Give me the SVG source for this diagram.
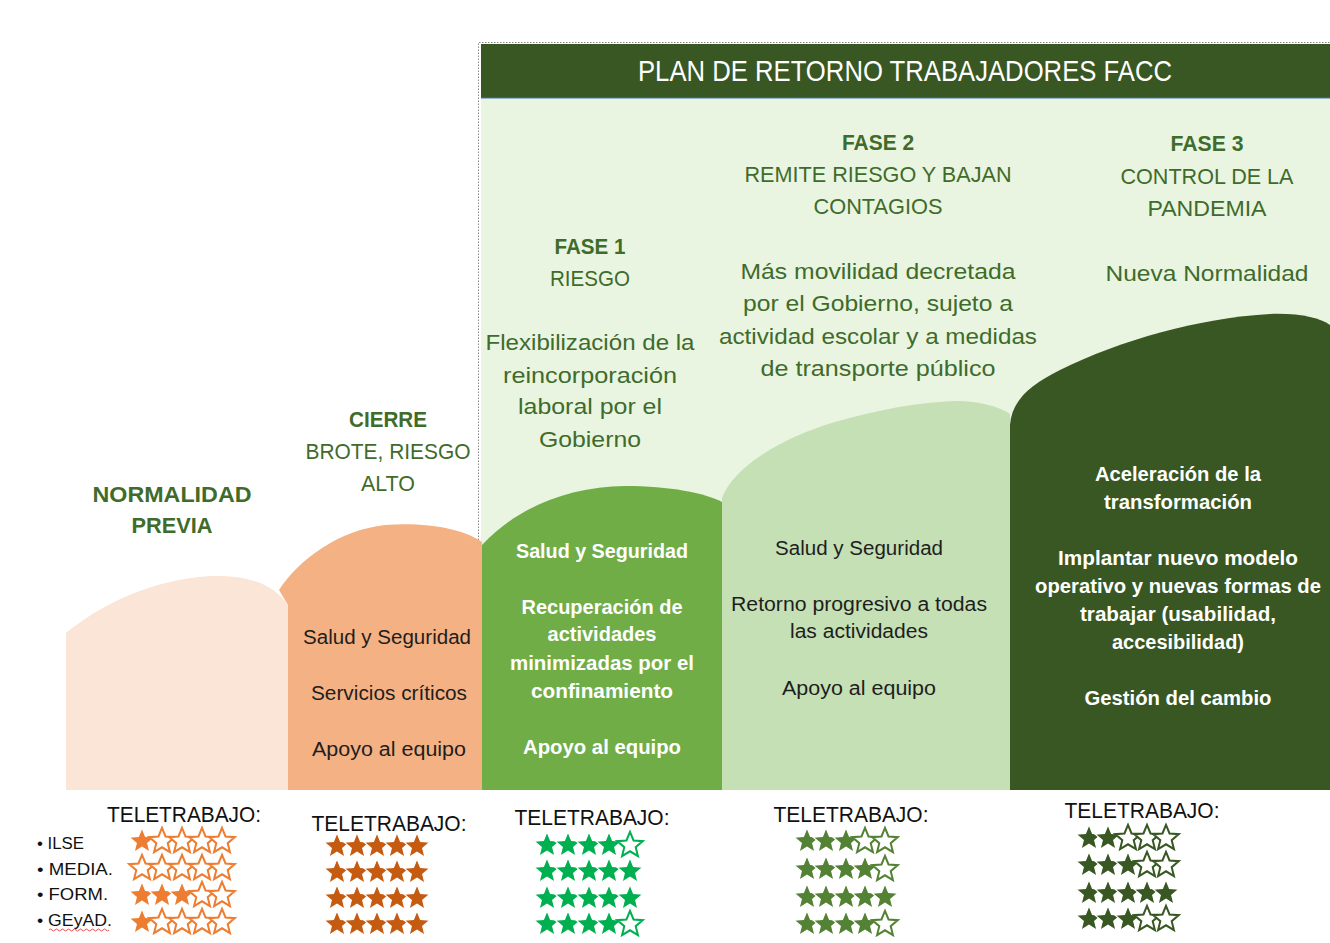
<svg xmlns="http://www.w3.org/2000/svg" width="1330" height="943" viewBox="0 0 1330 943">
<style>
text{font-family:"Liberation Sans",Arial,sans-serif;text-anchor:middle}
.hd{fill:#3f6b2b;font-size:22px}
.b{font-weight:bold}
.dk{fill:#1e1e1e;font-size:20px}
.wh{fill:#ffffff;font-size:20px;font-weight:bold}
.tt{fill:#111;font-size:22px}
.bl{fill:#111;font-size:16px;text-anchor:start}
.o1{fill:#ed7d31;stroke:#fff;stroke-width:1.2}
.o1e{fill:#fff;stroke:#ed7d31;stroke-width:2}
.o2{fill:#c55a11;stroke:#fff;stroke-width:1.2}
.g3{fill:#00b050;stroke:#fff;stroke-width:1.2}
.g3e{fill:#fff;stroke:#00b050;stroke-width:2}
.g4{fill:#548235;stroke:#fff;stroke-width:1.2}
.g4e{fill:#fff;stroke:#548235;stroke-width:2}
.g5{fill:#385723;stroke:#fff;stroke-width:1.2}
.g5e{fill:#fff;stroke:#385723;stroke-width:2}
</style>
<defs>
<path id="st" d="M0,-12.2 L3.53,-3.55 L12.84,-2.87 L5.71,3.15 L7.94,12.22 L0,7.3 L-7.94,12.22 L-5.71,3.15 L-12.84,-2.87 L-3.53,-3.55 Z"/>
</defs>
<rect width="1330" height="943" fill="#fff"/>

<g id="plan-area">
<rect x="481" y="98" width="849" height="692" fill="#e9f5e1"/>
<path d="M478.5,540 V42.5 H1330" fill="none" stroke="#8a8a8a" stroke-width="1" stroke-dasharray="1.5,1.5"/>
<rect x="481" y="44" width="849" height="54" fill="#385723"/>
<line x1="481" y1="98" x2="1330" y2="98" stroke="#4472c4" stroke-width="1.2"/>
<text x="905" y="81" fill="#fff" font-size="29" textLength="534" lengthAdjust="spacingAndGlyphs">PLAN DE RETORNO TRABAJADORES FACC</text>
</g>

<g id="normalidad">
<path d="M66,790 L66,633 C100,605 150,580 210,576 C245,575 272,582 288,605 L288,790 Z" fill="#fbe5d6"/>
<text class="hd b" x="172" y="502" textLength="159" lengthAdjust="spacingAndGlyphs">NORMALIDAD</text>
<text class="hd b" x="172" y="533" textLength="81" lengthAdjust="spacingAndGlyphs">PREVIA</text>
</g>

<g id="cierre">
<path d="M288,790 L288,605 L279,590 C300,558 340,530 385,525 C430,522 465,530 482,542 L482,790 Z" fill="#f4b183"/>
<text class="hd b" x="388" y="427" textLength="78" lengthAdjust="spacingAndGlyphs">CIERRE</text>
<text class="hd" x="388" y="459" textLength="165" lengthAdjust="spacingAndGlyphs">BROTE, RIESGO</text>
<text class="hd" x="388" y="491" textLength="54" lengthAdjust="spacingAndGlyphs">ALTO</text>
<text class="dk" x="387" y="644" textLength="168" lengthAdjust="spacingAndGlyphs">Salud y Seguridad</text>
<text class="dk" x="389" y="700" textLength="156" lengthAdjust="spacingAndGlyphs">Servicios críticos</text>
<text class="dk" x="389" y="756" textLength="154" lengthAdjust="spacingAndGlyphs">Apoyo al equipo</text>
</g>

<g id="fase1">
<path d="M482,790 L482,545 C520,505 570,487 625,486 C670,486 705,493 722,502 L722,790 Z" fill="#70ad47"/>
<text class="hd b" x="590" y="254" textLength="71" lengthAdjust="spacingAndGlyphs">FASE 1</text>
<text class="hd" x="590" y="286" textLength="80" lengthAdjust="spacingAndGlyphs">RIESGO</text>
<text class="hd" x="590" y="350" textLength="209" lengthAdjust="spacingAndGlyphs">Flexibilización de la</text>
<text class="hd" x="590" y="383" textLength="174" lengthAdjust="spacingAndGlyphs">reincorporación</text>
<text class="hd" x="590" y="414" textLength="144" lengthAdjust="spacingAndGlyphs">laboral por el</text>
<text class="hd" x="590" y="447" textLength="102" lengthAdjust="spacingAndGlyphs">Gobierno</text>
<text class="wh" x="602" y="558" textLength="172" lengthAdjust="spacingAndGlyphs">Salud y Seguridad</text>
<text class="wh" x="602" y="614" textLength="161" lengthAdjust="spacingAndGlyphs">Recuperación de</text>
<text class="wh" x="602" y="641" textLength="109" lengthAdjust="spacingAndGlyphs">actividades</text>
<text class="wh" x="602" y="670" textLength="184" lengthAdjust="spacingAndGlyphs">minimizadas por el</text>
<text class="wh" x="602" y="698" textLength="142" lengthAdjust="spacingAndGlyphs">confinamiento</text>
<text class="wh" x="602" y="754" textLength="158" lengthAdjust="spacingAndGlyphs">Apoyo al equipo</text>
</g>

<g id="fase2">
<path d="M722,790 L722,498 C732,470 775,440 835,422 C880,409 920,402 955,401 C980,401 1000,407 1010,414 L1010,790 Z" fill="#c5e0b4"/>
<text class="hd b" x="878" y="150" textLength="72" lengthAdjust="spacingAndGlyphs">FASE 2</text>
<text class="hd" x="878" y="182" textLength="267" lengthAdjust="spacingAndGlyphs">REMITE RIESGO Y BAJAN</text>
<text class="hd" x="878" y="214" textLength="129" lengthAdjust="spacingAndGlyphs">CONTAGIOS</text>
<text class="hd" x="878" y="279" textLength="275" lengthAdjust="spacingAndGlyphs">Más movilidad decretada</text>
<text class="hd" x="878" y="311" textLength="270" lengthAdjust="spacingAndGlyphs">por el Gobierno, sujeto a</text>
<text class="hd" x="878" y="344" textLength="318" lengthAdjust="spacingAndGlyphs">actividad escolar y a medidas</text>
<text class="hd" x="878" y="376" textLength="235" lengthAdjust="spacingAndGlyphs">de transporte público</text>
<text class="dk" x="859" y="555" textLength="168" lengthAdjust="spacingAndGlyphs">Salud y Seguridad</text>
<text class="dk" x="859" y="611" textLength="256" lengthAdjust="spacingAndGlyphs">Retorno progresivo a todas</text>
<text class="dk" x="859" y="638" textLength="138" lengthAdjust="spacingAndGlyphs">las actividades</text>
<text class="dk" x="859" y="695" textLength="154" lengthAdjust="spacingAndGlyphs">Apoyo al equipo</text>
</g>

<g id="fase3">
<path d="M1010,790 L1010,425 C1012,400 1030,385 1060,370 C1120,340 1200,318 1270,314 C1300,313 1320,318 1330,325 L1330,790 Z" fill="#385723"/>
<text class="hd b" x="1207" y="151" textLength="73" lengthAdjust="spacingAndGlyphs">FASE 3</text>
<text class="hd" x="1207" y="184" textLength="173" lengthAdjust="spacingAndGlyphs">CONTROL DE LA</text>
<text class="hd" x="1207" y="216" textLength="119" lengthAdjust="spacingAndGlyphs">PANDEMIA</text>
<text class="hd" x="1207" y="281" textLength="203" lengthAdjust="spacingAndGlyphs">Nueva Normalidad</text>
<text class="wh" x="1178" y="481" textLength="166" lengthAdjust="spacingAndGlyphs">Aceleración de la</text>
<text class="wh" x="1178" y="509" textLength="148" lengthAdjust="spacingAndGlyphs">transformación</text>
<text class="wh" x="1178" y="565" textLength="240" lengthAdjust="spacingAndGlyphs">Implantar nuevo modelo</text>
<text class="wh" x="1178" y="593" textLength="286" lengthAdjust="spacingAndGlyphs">operativo y nuevas formas de</text>
<text class="wh" x="1178" y="621" textLength="196" lengthAdjust="spacingAndGlyphs">trabajar (usabilidad,</text>
<text class="wh" x="1178" y="649" textLength="132" lengthAdjust="spacingAndGlyphs">accesibilidad)</text>
<text class="wh" x="1178" y="705" textLength="187" lengthAdjust="spacingAndGlyphs">Gestión del cambio</text>
</g>

<g id="connectors"></g>

<g id="legend">
<text class="bl" x="37" y="849" textLength="47" lengthAdjust="spacingAndGlyphs">• ILSE</text>
<text class="bl" x="37" y="875" textLength="76" lengthAdjust="spacingAndGlyphs">• MEDIA.</text>
<text class="bl" x="37" y="900" textLength="71" lengthAdjust="spacingAndGlyphs">• FORM.</text>
<text class="bl" x="37" y="926" textLength="75" lengthAdjust="spacingAndGlyphs">• GEyAD.</text>
<path d="M49,930 q1.5,-2 3,0 t3,0 t3,0 t3,0 t3,0 t3,0 t3,0 t3,0 t3,0 t3,0 t3,0 t3,0 t3,0 t3,0 t3,0 t3,0 t3,0 t3,0 t3,0 t3,0" fill="none" stroke="#e03c3c" stroke-width="0.9"/>
</g>

<g id="tele-normalidad">
<text class="tt" x="184" y="822" textLength="154" lengthAdjust="spacingAndGlyphs">TELETRABAJO:</text>
<use href="#st" x="142" y="840" class="o1"/><use href="#st" x="162" y="840" class="o1e"/><use href="#st" x="182" y="840" class="o1e"/><use href="#st" x="202" y="840" class="o1e"/><use href="#st" x="222" y="840" class="o1e"/>
<use href="#st" x="142" y="867" class="o1e"/><use href="#st" x="162" y="867" class="o1e"/><use href="#st" x="182" y="867" class="o1e"/><use href="#st" x="202" y="867" class="o1e"/><use href="#st" x="222" y="867" class="o1e"/>
<use href="#st" x="142" y="894" class="o1"/><use href="#st" x="162" y="894" class="o1"/><use href="#st" x="182" y="894" class="o1"/><use href="#st" x="202" y="894" class="o1e"/><use href="#st" x="222" y="894" class="o1e"/>
<use href="#st" x="142" y="921" class="o1"/><use href="#st" x="162" y="921" class="o1e"/><use href="#st" x="182" y="921" class="o1e"/><use href="#st" x="202" y="921" class="o1e"/><use href="#st" x="222" y="921" class="o1e"/>
</g>

<g id="tele-cierre">
<text class="tt" x="389" y="831" textLength="155" lengthAdjust="spacingAndGlyphs">TELETRABAJO:</text>
<use href="#st" x="337" y="845" class="o2"/><use href="#st" x="357" y="845" class="o2"/><use href="#st" x="377" y="845" class="o2"/><use href="#st" x="397" y="845" class="o2"/><use href="#st" x="417" y="845" class="o2"/>
<use href="#st" x="337" y="871" class="o2"/><use href="#st" x="357" y="871" class="o2"/><use href="#st" x="377" y="871" class="o2"/><use href="#st" x="397" y="871" class="o2"/><use href="#st" x="417" y="871" class="o2"/>
<use href="#st" x="337" y="897" class="o2"/><use href="#st" x="357" y="897" class="o2"/><use href="#st" x="377" y="897" class="o2"/><use href="#st" x="397" y="897" class="o2"/><use href="#st" x="417" y="897" class="o2"/>
<use href="#st" x="337" y="923" class="o2"/><use href="#st" x="357" y="923" class="o2"/><use href="#st" x="377" y="923" class="o2"/><use href="#st" x="397" y="923" class="o2"/><use href="#st" x="417" y="923" class="o2"/>
</g>

<g id="tele-fase1">
<text class="tt" x="592" y="825" textLength="155" lengthAdjust="spacingAndGlyphs">TELETRABAJO:</text>
<use href="#st" x="547" y="844" class="g3"/><use href="#st" x="568" y="844" class="g3"/><use href="#st" x="589" y="844" class="g3"/><use href="#st" x="609" y="844" class="g3"/><use href="#st" x="630" y="844" class="g3e"/>
<use href="#st" x="547" y="870" class="g3"/><use href="#st" x="568" y="870" class="g3"/><use href="#st" x="589" y="870" class="g3"/><use href="#st" x="609" y="870" class="g3"/><use href="#st" x="630" y="870" class="g3"/>
<use href="#st" x="547" y="897" class="g3"/><use href="#st" x="568" y="897" class="g3"/><use href="#st" x="589" y="897" class="g3"/><use href="#st" x="609" y="897" class="g3"/><use href="#st" x="630" y="897" class="g3"/>
<use href="#st" x="547" y="923" class="g3"/><use href="#st" x="568" y="923" class="g3"/><use href="#st" x="589" y="923" class="g3"/><use href="#st" x="609" y="923" class="g3"/><use href="#st" x="630" y="923" class="g3e"/>
</g>

<g id="tele-fase2">
<text class="tt" x="851" y="822" textLength="155" lengthAdjust="spacingAndGlyphs">TELETRABAJO:</text>
<use href="#st" x="807" y="840" class="g4"/><use href="#st" x="826" y="840" class="g4"/><use href="#st" x="846" y="840" class="g4"/><use href="#st" x="865" y="840" class="g4e"/><use href="#st" x="885" y="840" class="g4e"/>
<use href="#st" x="807" y="868" class="g4"/><use href="#st" x="826" y="868" class="g4"/><use href="#st" x="846" y="868" class="g4"/><use href="#st" x="865" y="868" class="g4"/><use href="#st" x="885" y="868" class="g4e"/>
<use href="#st" x="807" y="896" class="g4"/><use href="#st" x="826" y="896" class="g4"/><use href="#st" x="846" y="896" class="g4"/><use href="#st" x="865" y="896" class="g4"/><use href="#st" x="885" y="896" class="g4"/>
<use href="#st" x="807" y="923" class="g4"/><use href="#st" x="826" y="923" class="g4"/><use href="#st" x="846" y="923" class="g4"/><use href="#st" x="865" y="923" class="g4"/><use href="#st" x="885" y="923" class="g4e"/>
</g>

<g id="tele-fase3">
<text class="tt" x="1142" y="818" textLength="155" lengthAdjust="spacingAndGlyphs">TELETRABAJO:</text>
<use href="#st" x="1089" y="837" class="g5"/><use href="#st" x="1108" y="837" class="g5"/><use href="#st" x="1128" y="837" class="g5e"/><use href="#st" x="1147" y="837" class="g5e"/><use href="#st" x="1166" y="837" class="g5e"/>
<use href="#st" x="1089" y="864" class="g5"/><use href="#st" x="1108" y="864" class="g5"/><use href="#st" x="1128" y="864" class="g5"/><use href="#st" x="1147" y="864" class="g5e"/><use href="#st" x="1166" y="864" class="g5e"/>
<use href="#st" x="1089" y="892" class="g5"/><use href="#st" x="1108" y="892" class="g5"/><use href="#st" x="1128" y="892" class="g5"/><use href="#st" x="1147" y="892" class="g5"/><use href="#st" x="1166" y="892" class="g5"/>
<use href="#st" x="1089" y="918" class="g5"/><use href="#st" x="1108" y="918" class="g5"/><use href="#st" x="1128" y="918" class="g5"/><use href="#st" x="1147" y="918" class="g5e"/><use href="#st" x="1166" y="918" class="g5e"/>
</g>
</svg>
